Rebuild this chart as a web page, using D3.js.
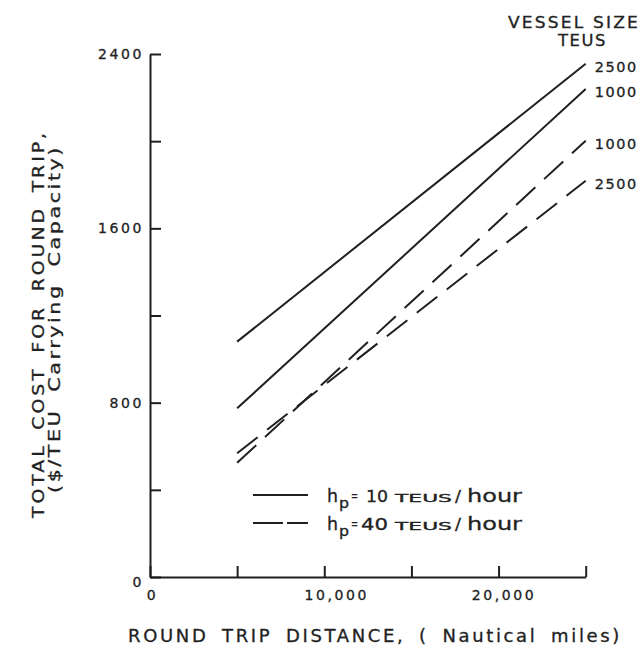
<!DOCTYPE html>
<html><head><meta charset="utf-8">
<script src="https://cdn.jsdelivr.net/npm/d3@7"></script>
<style>
body{margin:0;background:#fff}
svg{display:block}
text{font-family:"DejaVu Sans",sans-serif;fill:#222;stroke:#222;stroke-width:0.3px}
</style></head>
<body>
<script>
// ---- data ----
const distances = [5000, 25000];                 // round trip distance, nautical miles
const cost_hp10_2500 = [1080, 2355];             // h_p = 10 TEUs/hour, 2500 TEU vessel
const cost_hp10_1000 = [774, 2239];              // h_p = 10 TEUs/hour, 1000 TEU vessel
const cost_hp40_1000 = [524, 2002];              // h_p = 40 TEUs/hour, 1000 TEU vessel
const cost_hp40_2500 = [568, 1818];              // h_p = 40 TEUs/hour, 2500 TEU vessel
const vesselSizes = ["2500", "1000", "1000", "2500"];
const handlingRates = [10, 10, 40, 40];
const xTicks = [0, 5000, 10000, 15000, 20000, 25000];
const xTickLabels = ["0", "", "10,000", "", "20,000", ""];
const yTicks = [0, 400, 800, 1200, 1600, 2000, 2400];
const yTickLabels = ["0", "", "800", "", "1600", "", "2400"];
const legendRates = ["10", "40"];

const series = [cost_hp10_2500, cost_hp10_1000, cost_hp40_1000, cost_hp40_2500].map((v, i) => ({
  values: v, size: vesselSizes[i], rate: handlingRates[i]
}));

// ---- layout ----
const W = 644, H = 648;
const svg = d3.select("body").append("svg").attr("width", W).attr("height", H);
const ink = "#1f1f1f";

const x = d3.scaleLinear().domain([0, 25000]).range([150, 585.7]);
const y = d3.scaleLinear().domain([0, 2400]).range([577, 54]);

// axes
const xAxis = d3.axisBottom(x).tickValues(xTicks).tickSize(-11).tickSizeOuter(0).tickPadding(13)
  .tickFormat((d, i) => xTickLabels[i]);
const yAxis = d3.axisLeft(y).tickValues(yTicks).tickSize(-11).tickSizeOuter(0).tickPadding(6)
  .tickFormat((d, i) => yTickLabels[i]);

const gx = svg.append("g").attr("transform", `translate(0,${y(0)})`).call(xAxis);
const gy = svg.append("g").attr("transform", `translate(${x(0)},0)`).call(yAxis);
[gx, gy].forEach(g => {
  g.select(".domain").attr("stroke", ink).attr("stroke-width", 2);
  g.selectAll(".tick line").attr("stroke", ink).attr("stroke-width", 2);
  g.selectAll(".tick text").attr("font-size", 14)
    .attr("letter-spacing", "2.6px").attr("fill", "#222");
});
gx.selectAll(".tick text").attr("dx", d => d === 10000 ? 12 : d === 20000 ? 5 : 2);
gy.selectAll(".tick text").filter(d => d === 0).attr("dy", "0.65em");

// series lines
const line = d3.line().x((d, i) => x(distances[i])).y(d => y(d));
svg.append("g").selectAll("path").data(series).join("path")
  .attr("d", d => line(d.values))
  .attr("fill", "none").attr("stroke", ink).attr("stroke-width", 2)
  .attr("stroke-dasharray", d => d.rate === 40 ? "26,12" : null);

// end labels
svg.append("g").selectAll("text").data(series).join("text")
  .attr("x", x(25000) + 9)
  .attr("y", d => y(d.values[1]) + 8)
  .attr("font-size", 14).attr("letter-spacing", "1.5px")
  .attr("textLength", 43).attr("lengthAdjust", "spacingAndGlyphs")
  .text(d => d.size);

svg.append("text").attr("x", 508).attr("y", 28)
  .attr("font-size", 15.5).attr("letter-spacing", "2px")
  .attr("textLength", 132).attr("lengthAdjust", "spacingAndGlyphs").text("VESSEL SIZE");
svg.append("text").attr("x", 558).attr("y", 46)
  .attr("font-size", 15.5).attr("letter-spacing", "1.5px")
  .attr("textLength", 49).attr("lengthAdjust", "spacingAndGlyphs").text("TEUS");

// axis titles
svg.append("text").attr("transform", "translate(43.5,324) rotate(-90)")
  .attr("text-anchor", "middle").attr("font-size", 16)
  .attr("letter-spacing", "2.5px").attr("word-spacing", "4px")
  .attr("textLength", 388).attr("lengthAdjust", "spacingAndGlyphs")
  .text("TOTAL COST FOR ROUND TRIP,");
svg.append("text").attr("transform", "translate(60,319) rotate(-90)")
  .attr("text-anchor", "middle").attr("font-size", 16)
  .attr("letter-spacing", "2px").attr("word-spacing", "6px")
  .attr("textLength", 348).attr("lengthAdjust", "spacingAndGlyphs")
  .text("($/TEU Carrying Capacity)");
svg.append("text").attr("x", 128).attr("y", 642)
  .attr("font-size", 17).attr("letter-spacing", "2.5px").attr("word-spacing", "5px")
  .attr("textLength", 494).attr("lengthAdjust", "spacingAndGlyphs")
  .text("ROUND TRIP DISTANCE, ( Nautical miles)");

// legend
const legendY = [495, 523];
legendRates.forEach((r, i) => {
  const ly = legendY[i];
  const base = ly + 7;
  svg.append("line").attr("x1", 253).attr("x2", 308).attr("y1", ly).attr("y2", ly)
    .attr("stroke", ink).attr("stroke-width", 2)
    .attr("stroke-dasharray", i === 1 ? "30,4,21" : null);
  const t = svg.append("text").attr("y", base);
  const part = (tx, dy, size, len, s) => t.append("tspan").attr("x", tx).attr("y", base + dy)
    .attr("font-size", size).attr("textLength", len).attr("lengthAdjust", "spacingAndGlyphs").text(s);
  part(327, 0, 18, 11, "h");
  part(339, 6, 14, 10, "p");
  part(351, -2, 13, 7, "=");
  if (i === 0) part(366, 0, 16, 22, r); else part(361, 0, 16, 27, r);
  part(395, 0, 10.5, 57, "TEUS");
  part(455, 0, 16, 6, "/");
  part(467, 0, 17.5, 55, "hour");
});
</script>
</body></html>
